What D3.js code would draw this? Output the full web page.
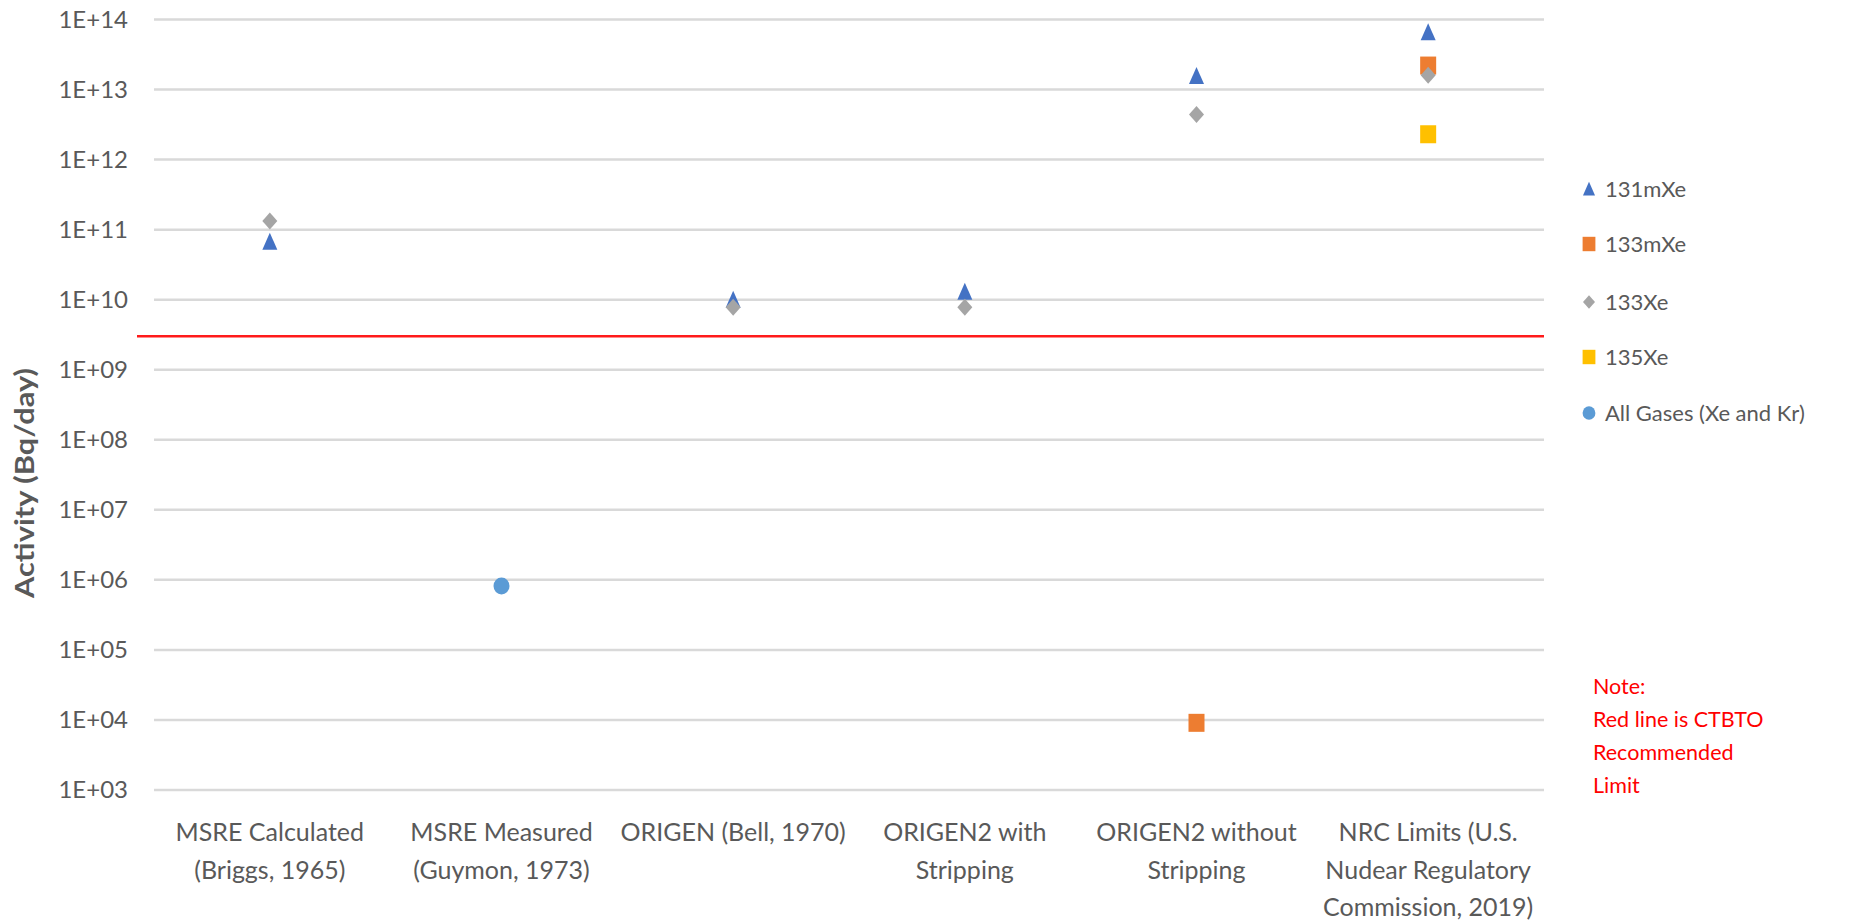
<!DOCTYPE html>
<html>
<head>
<meta charset="utf-8">
<script src="https://cdn.jsdelivr.net/npm/d3@7"></script>
<style>
    body { margin: 0; background: #fff; }
    text { font-family: Lato, "Open Sans", sans-serif; }
</style>
</head>
<body>
<div id="chart"></div>
<script>
// categories (x axis), each label split in lines
var categories = ['MSRE Calculated', 'MSRE Measured', 'ORIGEN (Bell, 1970)',
    'ORIGEN2 with', 'ORIGEN2 without', 'NRC Limits'];
var categoryLines = [
    ['MSRE Calculated', '(Briggs, 1965)'],
    ['MSRE Measured', '(Guymon, 1973)'],
    ['ORIGEN (Bell, 1970)'],
    ['ORIGEN2 with', 'Stripping'],
    ['ORIGEN2 without', 'Stripping'],
    ['NRC Limits (U.S.', 'Nudear Regulatory', 'Commission, 2019)']
];

// series values, null = no point
var xe131m = [6.7e10, null, 1.0e10, 1.3e10, 1.56e13, 6.6e13];
var xe133m = [null, null, null, null, 9.1e3, 2.2e13];
var xe133 = [1.33e11, null, 7.8e9, 7.8e9, 4.4e12, 1.6e13];
var xe135 = [null, null, null, null, null, 2.3e12];
var allGases = [null, 8.2e5, null, null, null, null];

var ctbtoLimit = 3.0e9;

var yTicks = [1e3, 1e4, 1e5, 1e6, 1e7, 1e8, 1e9, 1e10, 1e11, 1e12, 1e13, 1e14];

var seriesNames = ['131mXe', '133mXe', '133Xe', '135Xe', 'All Gases (Xe and Kr)'];
var seriesData = [xe131m, xe133m, xe133, xe135, allGases];
var seriesColors = ['#4472C4', '#ED7D31', '#A5A5A5', '#FFC000', '#5B9BD5'];
var seriesShapes = ['triangle', 'square', 'diamond', 'square', 'circle'];

var width = 1849, height = 923;
var plotLeft = 154, plotRight = 1544, plotTop = 19.5, plotBottom = 790;

var svg = d3.select('#chart').append('svg')
    .attr('width', width)
    .attr('height', height);

var x = d3.scaleBand()
    .domain(categories)
    .range([plotLeft, plotRight]);

var y = d3.scaleLog()
    .domain([1e3, 1e14])
    .range([plotBottom, plotTop]);

var textColor = '#595959';

// gridlines
svg.append('g').selectAll('line')
    .data(yTicks)
    .enter().append('line')
    .attr('x1', plotLeft)
    .attr('x2', plotRight)
    .attr('y1', function (d) { return y(d); })
    .attr('y2', function (d) { return y(d); })
    .style('stroke', '#d9d9d9')
    .style('stroke-width', 2.5);

// y axis labels
var fmt = function (d) {
    var e = Math.round(Math.log10(d));
    return '1E+' + (e < 10 ? '0' + e : e);
};
var yAxis = d3.axisLeft(y).tickValues(yTicks).tickFormat(fmt).tickSize(0).tickPadding(26);
var yG = svg.append('g')
    .attr('transform', 'translate(' + plotLeft + ',0)')
    .call(yAxis);
yG.select('.domain').remove();
yG.selectAll('text')
    .style('font-size', '24px')
    .style('font-family', 'Lato, sans-serif')
    .attr('fill', textColor);

// y title
svg.append('text')
    .attr('transform', 'translate(34,483) rotate(-90)')
    .attr('text-anchor', 'middle')
    .attr('textLength', 230)
    .attr('lengthAdjust', 'spacingAndGlyphs')
    .style('font-size', '27px')
    .style('font-weight', 'bold')
    .attr('fill', textColor)
    .text('Activity (Bq/day)');

// x labels
var xl = svg.append('g').selectAll('text')
    .data(categories)
    .enter().append('text')
    .attr('text-anchor', 'middle')
    .attr('x', function (d) { return x(d) + x.bandwidth() / 2; })
    .attr('y', 841)
    .style('font-size', '25px')
    .attr('fill', textColor);
xl.each(function (d, i) {
    var t = d3.select(this);
    categoryLines[i].forEach(function (line, j) {
        t.append('tspan')
            .attr('x', x(d) + x.bandwidth() / 2)
            .attr('dy', j === 0 ? 0 : 37.5)
            .text(line);
    });
});

// CTBTO limit line
svg.append('line')
    .attr('x1', 137)
    .attr('x2', plotRight)
    .attr('y1', y(ctbtoLimit))
    .attr('y2', y(ctbtoLimit))
    .style('stroke', '#ff1a1a')
    .style('stroke-width', 2.5);

function marker(g, shape, color) {
    if (shape === 'triangle') {
        g.append('path').attr('d', 'M0,-9L7.5,8L-7.5,8Z').attr('fill', color);
    } else if (shape === 'square') {
        g.append('rect').attr('x', -8).attr('y', -9).attr('width', 16).attr('height', 18).attr('fill', color);
    } else if (shape === 'diamond') {
        g.append('path').attr('d', 'M0,-8.5L7.5,0L0,8.5L-7.5,0Z').attr('fill', color);
    } else {
        g.append('ellipse').attr('rx', 8).attr('ry', 8.5).attr('fill', color);
    }
}

// points, drawn so that later series sit on top like the reference
var drawOrder = [1, 0, 2, 3, 4];
drawOrder.forEach(function (s) {
    seriesData[s].forEach(function (v, i) {
        if (v == null) return;
        var g = svg.append('g')
            .attr('transform', 'translate(' + (x(categories[i]) + x.bandwidth() / 2) + ',' + y(v) + ')');
        marker(g, seriesShapes[s], seriesColors[s]);
    });
});

// legend
var legendY = [189, 244, 302, 357, 413];
seriesNames.forEach(function (name, i) {
    var g = svg.append('g').attr('transform', 'translate(1589,' + legendY[i] + ')');
    var m = g.append('g').attr('transform', 'scale(0.8)');
    marker(m, seriesShapes[i], seriesColors[i]);
    g.append('text')
        .attr('x', 16)
        .attr('dy', '0.36em')
        .style('font-size', '22px')
        .attr('fill', textColor)
        .text(name);
});

// note
var noteLines = ['Note:', 'Red line is CTBTO', 'Recommended', 'Limit'];
svg.append('g').selectAll('text')
    .data(noteLines)
    .enter().append('text')
    .attr('x', 1593)
    .attr('y', function (d, i) { return 694 + i * 33; })
    .style('font-size', '21.5px')
    .attr('fill', '#ff0000')
    .text(function (d) { return d; });
</script>
</body>
</html>
